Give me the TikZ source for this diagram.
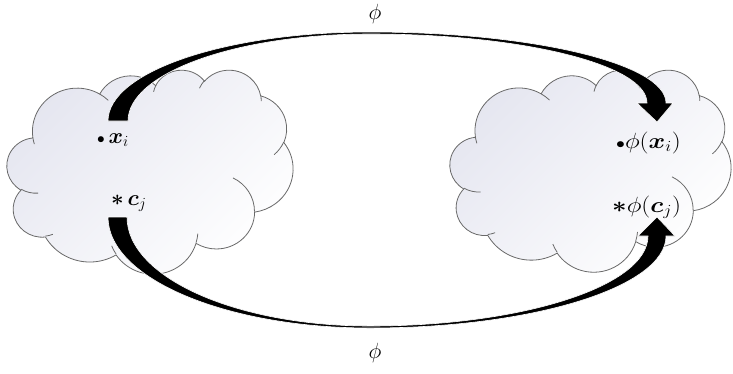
\documentclass[tikz,border=0pt]{standalone}
\usepackage{fix-cm}
\usepackage{tikz}
\usepackage{graphicx}
\usepackage{amsmath,bm}
\definecolor{cloudtop}{RGB}{229,230,240}
\definecolor{cloudedge}{RGB}{105,105,105}

% parametric angles for DrawingML (visual-angle) arcs
\newcommand\cldprep[5]{%
  \pgfmathparse{atan2((#2)*sin(#4),(#3)*cos(#4))}\let\cldtmpT\pgfmathresult
  \pgfmathparse{atan2((#2)*sin((#4)+(#5)),(#3)*cos((#4)+(#5)))}\let\cldtmpE\pgfmathresult
  \pgfmathparse{mod(\cldtmpE-(\cldtmpT)+720,360)}\let\cldtmpD\pgfmathresult
  \expandafter\xdef\csname cldT#1\endcsname{\cldtmpT}%
  \expandafter\xdef\csname cldD#1\endcsname{\cldtmpD}}
\cldprep{A}{67.53}{91.90}{-190.4875}{123.7805}
\cldprep{B}{53.33}{72.67}{-144.1024}{89.9452}
\cldprep{C}{43.65}{59.45}{-145.8079}{99.7230}
\cldprep{D}{48.57}{65.95}{-130.9861}{117.2417}
\cldprep{E}{53.33}{72.73}{-78.7089}{109.0269}
\cldprep{F}{67.75}{92.20}{-46.2673}{130.2690}
\cldprep{G}{57.85}{78.67}{0.6250}{114.0333}
\cldprep{H}{67.52}{92.15}{22.4516}{115.1726}
\cldprep{I}{77.20}{105.43}{66.2426}{75.7110}
\cldprep{J}{43.60}{59.18}{-274.9421}{146.7356}
\cldprep{K}{43.45}{59.45}{-246.8285}{152.5189}
\cldprep{a}{43.45}{59.45}{86.7420}{26.4295}
\cldprep{b}{43.60}{59.18}{73.6105}{11.4475}
\cldprep{c}{67.52}{92.15}{137.6242}{14.0811}
\cldprep{d}{67.52}{92.15}{6.4533}{15.9984}
\cldprep{e}{57.85}{78.67}{-70.2924}{70.9174}
\cldprep{f}{53.33}{72.73}{30.3180}{27.7515}
\cldprep{g}{48.57}{65.95}{-13.7443}{14.8589}
\cldprep{h}{48.57}{65.95}{-149.1815}{18.1954}
\cldprep{i}{43.65}{59.45}{-163.4943}{17.6864}
\cldprep{j}{67.53}{91.90}{-66.7070}{12.3194}
\cldprep{k}{67.53}{91.90}{157.6544}{11.8582}

\tikzset{
  cloudbody/.style={draw=cloudedge, line width=0.8pt, top color=cloudtop, bottom color=white, shading angle=45},
  cloudline/.style={draw=cloudedge, line width=0.8pt},
  arrowband/.style={fill=black, draw=white, line width=0.6pt},
  lbl/.style={inner sep=0pt, font=\fontsize{22}{26}\selectfont},
}
\newcommand\smbul{{\scriptstyle\bullet}}
\newcommand\widelbl[1]{\scalebox{1.15}[1]{#1}}

\newcommand\pptcloud[5]{% name, x0, y0, w, h
  \pgfmathsetmacro\cldsx{#4/432}%
  \pgfmathsetmacro\cldsy{#5/432}%
  \begin{scope}[shift={(#2,#3)}, x=\cldsx pt, y=-\cldsy pt]
    \path[cloudbody] (39.00,143.70)
      arc[x radius=67.53, y radius=91.90, start angle=\cldTA, delta angle=\cldDA]
      arc[x radius=53.33, y radius=72.67, start angle=\cldTB, delta angle=\cldDB]
      arc[x radius=43.65, y radius=59.45, start angle=\cldTC, delta angle=\cldDC]
      arc[x radius=48.57, y radius=65.95, start angle=\cldTD, delta angle=\cldDD]
      arc[x radius=53.33, y radius=72.73, start angle=\cldTE, delta angle=\cldDE]
      arc[x radius=67.75, y radius=92.20, start angle=\cldTF, delta angle=\cldDF]
      arc[x radius=57.85, y radius=78.67, start angle=\cldTG, delta angle=\cldDG]
      arc[x radius=67.52, y radius=92.15, start angle=\cldTH, delta angle=\cldDH]
      arc[x radius=77.20, y radius=105.43, start angle=\cldTI, delta angle=\cldDI]
      arc[x radius=43.60, y radius=59.18, start angle=\cldTJ, delta angle=\cldDJ]
      arc[x radius=43.45, y radius=59.45, start angle=\cldTK, delta angle=\cldDK]
      -- cycle;
    \draw[cloudline]
      (46.93,261.77) arc[x radius=43.45, y radius=59.45, start angle=\cldTa, delta angle=\cldDa]
      (69.28,348.99) arc[x radius=43.60, y radius=59.18, start angle=\cldTb, delta angle=\cldDb]
      (164.78,390.90) arc[x radius=67.52, y radius=92.15, start angle=\cldTc, delta angle=\cldDc]
      (288.27,347.51) arc[x radius=67.52, y radius=92.15, start angle=\cldTd, delta angle=\cldDd]
      (341.29,229.54) arc[x radius=57.85, y radius=78.67, start angle=\cldTe, delta angle=\cldDe]
      (417.98,153.54) arc[x radius=53.33, y radius=72.73, start angle=\cldTf, delta angle=\cldDf]
      (383.24,54.26) arc[x radius=48.57, y radius=65.95, start angle=\cldTg, delta angle=\cldDg]
      (290.78,39.52) arc[x radius=48.57, y radius=65.95, start angle=\cldTh, delta angle=\cldDh]
      (221.41,47.20) arc[x radius=43.65, y radius=59.45, start angle=\cldTi, delta angle=\cldDi]
      (140.00,51.92) arc[x radius=67.53, y radius=91.90, start angle=\cldTj, delta angle=\cldDj]
      (41.27,157.89) arc[x radius=67.53, y radius=91.90, start angle=\cldTk, delta angle=\cldDk];
    \coordinate (#1) at (216,216);
  \end{scope}}

\begin{document}
\begin{tikzpicture}[x=1pt, y=-1pt]
  \useasboundingbox (0,0) rectangle (733,373);
  \fill[white] (0,0) rectangle (733,373);

  % clouds
  \pptcloud{leftcloud}{7}{69.5}{286}{204}
  \pptcloud{rightcloud}{450}{69.5}{281}{202}

  % arrow end points
  \coordinate (tStart) at (108,121);
  \coordinate (tTip)   at (657,122);
  \coordinate (bStart) at (108,217);
  \coordinate (bTip)   at (657,217);

  % upper curved arrow
  \path[arrowband] (tStart)
    arc[x radius=262, y radius=89, start angle=180, delta angle=90]
    arc[x radius=296, y radius=71, start angle=270, delta angle=90]
    -- ++(7,0) -- (tTip) -- (637,103) -- ++(10,0)
    arc[x radius=277, y radius=69, start angle=0, delta angle=-90]
    arc[x radius=242, y radius=87, start angle=270, delta angle=-90]
    -- cycle;

  % lower curved arrow
  \path[arrowband] (bStart)
    arc[x radius=262, y radius=111, start angle=180, delta angle=-90]
    arc[x radius=296, y radius=92, start angle=90, delta angle=-90]
    -- ++(9,0) -- (bTip) -- (638,236) -- ++(10,0)
    arc[x radius=278, y radius=90, start angle=0, delta angle=90]
    arc[x radius=243, y radius=109, start angle=90, delta angle=90]
    -- cycle;

  % labels
  \node[lbl, anchor=base west] (xi) at (97,143.5) {$\smbul\,\bm{x}_i$};
  \node[lbl, anchor=base west] (cj) at (111,205.5) {$\bm{\ast}\,\bm{c}_j$};
  \node[lbl, anchor=base west] (phixi) at (616,148) {\widelbl{$\smbul\phi(\bm{x}_i)$}};
  \node[lbl, anchor=base west] (phicj) at (612,212.5) {\widelbl{$\bm{\ast}\phi(\bm{c}_j)$}};
  \node[lbl, anchor=base] (phitop) at (375,19) {$\phi$};
  \node[lbl, anchor=base] (phibot) at (375,358.5) {$\phi$};
\end{tikzpicture}
\end{document}
